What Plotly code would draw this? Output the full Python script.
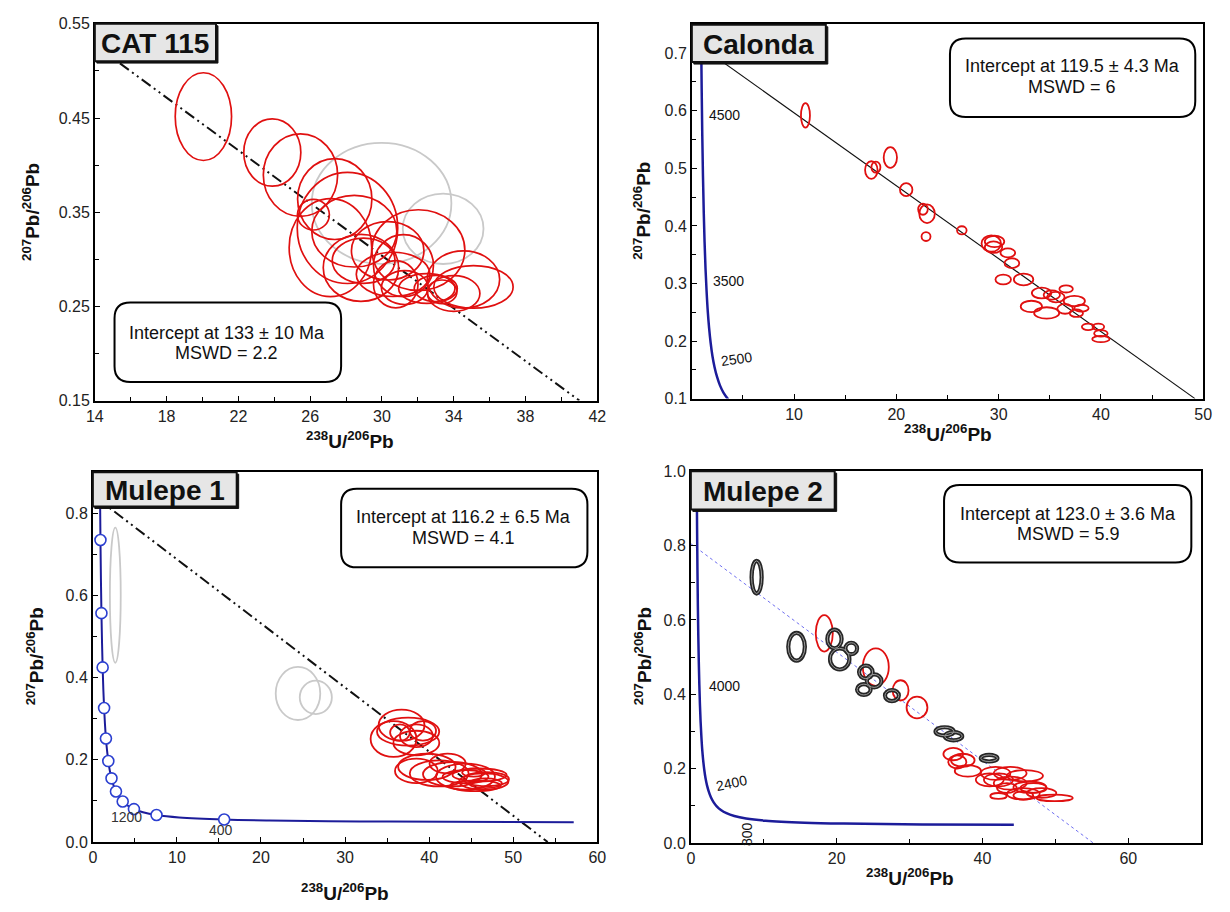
import plotly.graph_objects as go

# page body keeps an 8 px margin, so the figure is 1214x896 placed at (8, 8)
OFF = 8
W, H = 1230 - 2 * OFF, 912 - 2 * OFF

def px(v):
    return (v - OFF) / W

def py(v):
    return 1 - (v - OFF) / H

# ---------------- DATA ----------------
cat_x = [20.05, 23.89, 25.46, 27.37, 26.18, 28.08, 27.13, 28.46, 30.32, 28.83, 28.98, 32.03, 31.20, 30.62, 30.77, 31.27, 32.50, 33.00, 34.54, 35.10, 34.00, 33.35]
cat_y = [0.4515, 0.4133, 0.3894, 0.3640, 0.3474, 0.3333, 0.3124, 0.3298, 0.3090, 0.2909, 0.2985, 0.3098, 0.2933, 0.2840, 0.2735, 0.2700, 0.2690, 0.2690, 0.2785, 0.2707, 0.2637, 0.2655]
cat_ex = [1.57, 1.59, 2.07, 2.07, 0.89, 2.80, 2.30, 2.37, 2.02, 2.10, 1.75, 2.59, 1.67, 2.05, 1.24, 1.30, 1.57, 1.20, 2.02, 2.21, 1.46, 0.83]
cat_ey = [0.0466, 0.0357, 0.0438, 0.0430, 0.0163, 0.0590, 0.0520, 0.0380, 0.0310, 0.0355, 0.0240, 0.0428, 0.0330, 0.0235, 0.0250, 0.0180, 0.0157, 0.0139, 0.0304, 0.0226, 0.0190, 0.0125]
cat_gx = [29.98, 33.41]
cat_gy = [0.3594, 0.3324]
cat_gex = [3.89, 2.25]
cat_gey = [0.0643, 0.0374]
cat_line_x = [15.4, 41.0]
cat_line_y = [0.508, 0.15]

cal_x = [11.11, 17.55, 18.00, 19.41, 20.96, 22.60, 23.00, 22.90, 26.40, 29.28, 29.60, 29.50, 30.90, 31.30, 30.45, 32.44, 34.20, 35.20, 33.20, 34.70, 35.60, 36.60, 37.40, 36.50, 37.60, 38.10, 38.75, 39.75, 40.00, 40.00]
cal_y = [0.592, 0.497, 0.502, 0.5188, 0.463, 0.429, 0.4212, 0.3815, 0.3923, 0.3693, 0.373, 0.363, 0.3532, 0.3353, 0.307, 0.307, 0.2834, 0.280, 0.2601, 0.2488, 0.2763, 0.2905, 0.2695, 0.2559, 0.2483, 0.257, 0.2247, 0.2247, 0.2133, 0.2034]
cal_ex = [0.44, 0.61, 0.44, 0.65, 0.61, 0.47, 0.76, 0.44, 0.47, 0.95, 0.95, 0.85, 0.72, 0.72, 0.76, 0.95, 0.95, 0.80, 1.04, 1.23, 0.85, 0.66, 1.04, 0.76, 0.65, 0.70, 0.61, 0.57, 0.66, 0.85]
cal_ey = [0.0213, 0.0153, 0.0096, 0.0179, 0.0113, 0.0096, 0.0162, 0.0077, 0.0071, 0.0142, 0.0099, 0.0100, 0.0077, 0.0085, 0.0085, 0.0102, 0.0094, 0.0080, 0.0099, 0.0099, 0.0090, 0.0062, 0.0091, 0.0085, 0.0065, 0.0060, 0.0057, 0.0057, 0.0057, 0.0054]
cal_line_x = [0.0, 49.2]
cal_line_y = [0.723, 0.1]
cal_conc_x = [0.853, 0.904, 0.960, 1.021, 1.089, 1.163, 1.245, 1.337, 1.440, 1.556, 1.687, 1.838, 2.013, 2.217, 2.459, 2.749, 3.105, 3.550]
cal_conc_y = [0.846, 0.735, 0.639, 0.557, 0.486, 0.425, 0.372, 0.326, 0.287, 0.252, 0.223, 0.197, 0.174, 0.155, 0.138, 0.123, 0.110, 0.0987]
cal_age_labels = ["4500", "3500", "2500"]
cal_age_x = [3.23, 3.6, 4.33]
cal_age_y = [0.593, 0.304, 0.168]

m1_x = [36.72, 35.77, 37.50, 36.53, 38.48, 38.48, 39.26, 38.48, 39.73, 42.20, 41.20, 42.77, 44.33, 46.00, 46.50, 44.33, 45.30, 46.70, 45.50, 46.80]
m1_y = [0.2844, 0.2507, 0.2686, 0.2665, 0.241, 0.2586, 0.2705, 0.173, 0.183, 0.191, 0.167, 0.165, 0.159, 0.163, 0.147, 0.159, 0.169, 0.143, 0.137, 0.153]
m1_ex = [2.73, 2.73, 3.70, 1.17, 2.73, 1.95, 1.56, 2.54, 3.42, 2.15, 3.50, 3.50, 3.50, 3.22, 2.93, 2.73, 1.37, 1.95, 3.0, 2.7]
m1_ey = [0.0378, 0.0437, 0.034, 0.020, 0.0298, 0.0278, 0.0239, 0.0298, 0.0318, 0.0239, 0.0318, 0.0298, 0.0318, 0.0159, 0.0199, 0.0159, 0.010, 0.012, 0.013, 0.017]
m1_gx = [2.67, 24.4, 26.52]
m1_gy = [0.6007, 0.3615, 0.352]
m1_gex = [0.645, 2.65, 1.91]
m1_gey = [0.1644, 0.0645, 0.0406]
m1_line_x = [0.0, 54.1]
m1_line_y = [0.844, 0.0]
m1_conc_x = [0.806, 0.853, 0.904, 0.960, 1.021, 1.089, 1.163, 1.245, 1.337, 1.440, 1.556, 1.687, 1.838, 2.013, 2.217, 2.459, 2.749, 3.105, 3.550, 4.122, 4.887, 5.959, 7.57, 10.25, 15.62, 20.99, 31.73, 42.48, 57.2]
m1_conc_y = [0.974, 0.846, 0.735, 0.639, 0.557, 0.486, 0.425, 0.372, 0.326, 0.287, 0.252, 0.223, 0.197, 0.174, 0.155, 0.138, 0.123, 0.110, 0.0987, 0.0888, 0.0801, 0.0725, 0.0658, 0.0599, 0.0547, 0.0523, 0.0501, 0.0491, 0.0482]
m1_mark_x = [0.904, 1.021, 1.163, 1.337, 1.556, 1.838, 2.217, 2.749, 3.550, 4.887, 7.57, 15.62]
m1_mark_y = [0.735, 0.557, 0.425, 0.326, 0.252, 0.197, 0.155, 0.123, 0.0987, 0.0801, 0.0658, 0.0547]
m1_age_labels = ["1200", "400"]
m1_age_x = [4.0, 15.2]
m1_age_y = [0.06, 0.03]

m2_bx = [9.02, 14.5, 19.7, 20.42, 22.0, 24.0, 25.14, 23.73, 27.58, 34.81, 36.03, 40.91]
m2_by = [0.7149, 0.5276, 0.5487, 0.4952, 0.5232, 0.4596, 0.436, 0.4127, 0.3965, 0.300, 0.2873, 0.228]
m2_bex = [0.69, 1.14, 0.98, 1.33, 0.80, 0.93, 1.00, 0.93, 0.95, 1.25, 1.19, 1.14]
m2_bey = [0.0439, 0.0373, 0.025, 0.0285, 0.0154, 0.0175, 0.0175, 0.0145, 0.0149, 0.0114, 0.011, 0.0088]
m2_rx = [18.3, 25.37, 28.77, 31.02, 35.99, 36.55, 37.3, 38.0, 41.0, 41.8, 43.8, 45.82, 42.2, 43.8, 46.5, 43.35, 45.6, 48.1, 49.9, 42.2, 45.6, 47.0]
m2_ry = [0.564, 0.4732, 0.4105, 0.3645, 0.2393, 0.218, 0.2225, 0.1939, 0.1698, 0.1873, 0.1873, 0.1808, 0.1698, 0.161, 0.150, 0.148, 0.1323, 0.1345, 0.1213, 0.1266, 0.128, 0.148]
m2_rex = [1.17, 1.78, 1.09, 1.43, 1.35, 1.24, 1.62, 1.80, 1.91, 2.03, 2.25, 2.48, 2.00, 2.25, 2.25, 1.35, 2.25, 2.03, 2.48, 1.13, 1.35, 1.80]
m2_rey = [0.0491, 0.0504, 0.0272, 0.0294, 0.0167, 0.0176, 0.0176, 0.0154, 0.0176, 0.0176, 0.0176, 0.0154, 0.0176, 0.0176, 0.0154, 0.0132, 0.0154, 0.0132, 0.0088, 0.0079, 0.011, 0.0132]
m2_line_x = [0.0, 55.2]
m2_line_y = [0.805, 0.0]
m2_conc_x = [0.763, 0.806, 0.853, 0.904, 0.960, 1.021, 1.089, 1.163, 1.245, 1.337, 1.440, 1.556, 1.687, 1.838, 2.013, 2.217, 2.459, 2.749, 3.105, 3.550, 4.122, 4.887, 5.959, 7.57, 10.25, 15.62, 20.99, 31.73, 44.3]
m2_conc_y = [1.123, 0.974, 0.846, 0.735, 0.639, 0.557, 0.486, 0.425, 0.372, 0.326, 0.287, 0.252, 0.223, 0.197, 0.174, 0.155, 0.138, 0.123, 0.110, 0.0987, 0.0888, 0.0801, 0.0725, 0.0658, 0.0599, 0.0547, 0.0523, 0.0501, 0.0490]
m2_age_labels = ["4000", "2400", "800"]
m2_age_x = [4.56, 5.6, 7.69]
m2_age_y = [0.421, 0.161, 0.024]
m2_age_angle = [0, -12, -90]

panel_names = ["CAT 115", "Calonda", "Mulepe 1", "Mulepe 2"]
intercept_text = ["Intercept at 133 ± 10 Ma", "Intercept at 119.5 ± 4.3 Ma",
                  "Intercept at 116.2 ± 6.5 Ma", "Intercept at 123.0 ± 3.6 Ma"]
mswd_text = ["MSWD = 2.2", "MSWD = 6", "MSWD = 4.1", "MSWD = 5.9"]
x_title = "<sup>238</sup>U/<sup>206</sup>Pb"
y_title = "<sup>207</sup>Pb/<sup>206</sup>Pb"

# ---------------- GEOMETRY (page pixels) ----------------
dom = {
    1: (87, 597, 16, 400),
    2: (693, 1212, 16, 398),
    3: (85, 597, 473, 850),
    4: (692, 1210, 472, 851),
}
RED = "#e01010"
GREY = "#c9c9c9"
NAVY = "#1c1c9a"
FONT = "Arial, Liberation Sans, sans-serif"

fig = go.Figure()


def ax_name(i):
    return ("x" if i == 1 else "x%d" % i), ("y" if i == 1 else "y%d" % i)


def add_ellipses(i, xs, ys, exs, eys, color, width):
    xr, yr = ax_name(i)
    for cx, cy, ex, ey in zip(xs, ys, exs, eys):
        fig.add_shape(type="circle", xref=xr, yref=yr,
                      x0=cx - ex, x1=cx + ex, y0=cy - ey, y1=cy + ey,
                      line=dict(color=color, width=width),
                      fillcolor="rgba(0,0,0,0)")


def add_line(i, xs, ys, color, width, dash, shape="linear"):
    xr, yr = ax_name(i)
    fig.add_trace(go.Scatter(x=xs, y=ys, mode="lines", xaxis=xr, yaxis=yr,
                             line=dict(color=color, width=width, dash=dash, shape=shape),
                             showlegend=False, hoverinfo="skip"))


DASHDOT2 = "11px,4px,2px,4px,2px,4px"

add_line(1, cat_line_x, cat_line_y, "#111111", 2, DASHDOT2)
add_ellipses(1, cat_gx, cat_gy, cat_gex, cat_gey, GREY, 1.8)
add_ellipses(1, cat_x, cat_y, cat_ex, cat_ey, RED, 1.7)

add_line(2, cal_line_x, cal_line_y, "#111111", 1.1, "solid")
add_line(2, cal_conc_x, cal_conc_y, NAVY, 2.5, "solid", "spline")
add_ellipses(2, cal_x, cal_y, cal_ex, cal_ey, RED, 1.8)

add_line(3, m1_line_x, m1_line_y, "#111111", 2, DASHDOT2)
add_line(3, m1_conc_x, m1_conc_y, NAVY, 2, "solid", "spline")
fig.add_trace(go.Scatter(x=m1_mark_x, y=m1_mark_y, mode="markers", xaxis="x3", yaxis="y3",
                         marker=dict(symbol="circle", size=11, color="white",
                                     line=dict(color="#2b3fd0", width=1.6)),
                         showlegend=False, hoverinfo="skip"))
add_ellipses(3, m1_gx, m1_gy, m1_gex, m1_gey, GREY, 1.8)
add_ellipses(3, m1_x, m1_y, m1_ex, m1_ey, RED, 1.8)

add_line(4, m2_line_x, m2_line_y, "#6f6ff0", 1, "dot")
add_line(4, m2_conc_x, m2_conc_y, NAVY, 2.5, "solid", "spline")
add_ellipses(4, m2_rx, m2_ry, m2_rex, m2_rey, RED, 1.8)
add_ellipses(4, m2_bx, m2_by, m2_bex, m2_bey, "#262626", 4.2)
add_ellipses(4, m2_bx, m2_by, m2_bex, m2_bey, "#9a9a9a", 1)

# ---------------- AXES ----------------
common = dict(showline=True, linecolor="black", linewidth=1.6, mirror=True,
              ticks="inside", ticklen=5, tickwidth=1.3, tickcolor="black",
              showgrid=False, zeroline=False,
              tickfont=dict(family=FONT, size=16, color="#222222"))

axes_cfg = {
    1: dict(xr=[14, 42], xt=[14, 18, 22, 26, 30, 34, 38, 42], xm=2,
            yr=[0.15, 0.55], yt=[0.15, 0.25, 0.35, 0.45, 0.55], ym=0.05, fmt="%.2f"),
    2: dict(xr=[0, 50], xt=[10, 20, 30, 40, 50], xm=5,
            yr=[0.1, 0.751], yt=[0.1, 0.2, 0.3, 0.4, 0.5, 0.6, 0.7], ym=0.05, fmt="%.1f"),
    3: dict(xr=[0, 60], xt=[0, 10, 20, 30, 40, 50, 60], xm=5,
            yr=[0, 0.9], yt=[0.0, 0.2, 0.4, 0.6, 0.8], ym=0.1, fmt="%.1f"),
    4: dict(xr=[0, 70], xt=[0, 20, 40, 60], xm=10,
            yr=[0, 1.0], yt=[0.0, 0.2, 0.4, 0.6, 0.8, 1.0], ym=0.1, fmt="%.1f"),
}

lay = {}
for i, (x0, x1, yt, yb) in dom.items():
    c = axes_cfg[i]
    xk = "xaxis" if i == 1 else "xaxis%d" % i
    yk = "yaxis" if i == 1 else "yaxis%d" % i
    xr_, yr_ = ax_name(i)
    lay[xk] = dict(common, domain=[px(x0), px(x1)], anchor=yr_, range=c["xr"],
                   tickmode="array", tickvals=c["xt"], ticktext=[str(v) for v in c["xt"]],
                   minor=dict(ticks="inside", ticklen=4, tickwidth=1.2, tickcolor="black",
                              tickmode="linear", tick0=c["xr"][0], dtick=c["xm"]))
    lay[yk] = dict(common, domain=[py(yb), py(yt)], anchor=xr_, range=c["yr"],
                   tickmode="array", tickvals=c["yt"], ticktext=[c["fmt"] % v for v in c["yt"]],
                   minor=dict(ticks="inside", ticklen=4, tickwidth=1.2, tickcolor="black",
                              tickmode="linear", tick0=c["yr"][0], dtick=c["ym"]))

annotations = []


def rounded_rect(x0, y0, x1, y1, r):
    pts = [
        (x0 + r, y0), (x1 - r, y0), ("Q", x1, y0, x1, y0 + r), (x1, y1 - r),
        ("Q", x1, y1, x1 - r, y1), (x0 + r, y1), ("Q", x0, y1, x0, y1 - r),
        (x0, y0 + r), ("Q", x0, y0, x0 + r, y0)]
    path = "M %.5f,%.5f" % (px(pts[0][0]), py(pts[0][1]))
    for p in pts[1:]:
        if p[0] == "Q":
            path += " Q %.5f,%.5f %.5f,%.5f" % (px(p[1]), py(p[2]), px(p[3]), py(p[4]))
        else:
            path += " L %.5f,%.5f" % (px(p[0]), py(p[1]))
    return path + " Z"


ibox = {
    1: (107, 337, 300, 381, 221, 331, 352),
    2: (955, 1204, 31, 111, 1079, 59, 80),
    3: (337, 587, 490, 570, 461, 519, 540),
    4: (949, 1200, 486, 565, 1075, 516, 536),
}
for i, (x0, x1, yt, yb, tx, l1, l2) in ibox.items():
    fig.add_shape(type="path", xref="paper", yref="paper",
                  path=rounded_rect(x0, yt, x1, yb, 16),
                  line=dict(color="black", width=2), fillcolor="white")
    for txt, ly in ((intercept_text[i - 1], l1), (mswd_text[i - 1], l2)):
        annotations.append(dict(x=px(tx), y=py(ly), xref="paper", yref="paper",
                                text=txt, showarrow=False,
                                font=dict(family=FONT, size=18, color="#111111"),
                                xanchor="center", yanchor="middle"))

tbox = {
    1: (87, 210, 16, 54),
    2: (693, 829, 17, 55),
    3: (85, 231, 473, 508),
    4: (692, 838, 472, 511),
}
for i, (x0, x1, yt, yb) in tbox.items():
    fig.add_shape(type="rect", xref="paper", yref="paper",
                  x0=px(x0 + 2), x1=px(x1 + 2), y0=py(yb + 2), y1=py(yt + 2),
                  line=dict(color="#111111", width=1), fillcolor="#111111")
    fig.add_shape(type="rect", xref="paper", yref="paper",
                  x0=px(x0), x1=px(x1), y0=py(yb), y1=py(yt),
                  line=dict(color="#111111", width=2), fillcolor="#e6e6e6")
    annotations.append(dict(x=px((x0 + x1) / 2), y=py((yt + yb) / 2 + 1), xref="paper", yref="paper",
                            text=panel_names[i - 1], showarrow=False,
                            font=dict(family=FONT, size=28, color="#111111", weight="bold"),
                            xanchor="center", yanchor="middle"))

xt_pos = {1: (346, 440), 2: (953, 433), 3: (341, 901), 4: (914, 886)}
yt_pos = {1: (22, 208), 2: (643, 207), 3: (26, 661), 4: (643, 661)}
for i in range(1, 5):
    annotations.append(dict(x=px(xt_pos[i][0]), y=py(xt_pos[i][1]), xref="paper", yref="paper",
                            text=x_title, showarrow=False,
                            font=dict(family=FONT, size=19, color="#111111", weight="bold"),
                            xanchor="center", yanchor="middle"))
    annotations.append(dict(x=px(yt_pos[i][0]), y=py(yt_pos[i][1]), xref="paper", yref="paper",
                            text=y_title, showarrow=False, textangle=-90,
                            font=dict(family=FONT, size=19, color="#111111", weight="bold"),
                            xanchor="center", yanchor="middle"))

for t, x, y in zip(cal_age_labels, cal_age_x, cal_age_y):
    annotations.append(dict(x=x, y=y, xref="x2", yref="y2", text=t, showarrow=False,
                            textangle=-8 if t == "2500" else 0,
                            font=dict(family=FONT, size=14, color="#111111")))
for t, x, y in zip(m1_age_labels, m1_age_x, m1_age_y):
    annotations.append(dict(x=x, y=y, xref="x3", yref="y3", text=t, showarrow=False,
                            font=dict(family=FONT, size=14, color="#333333")))
for t, x, y, a in zip(m2_age_labels, m2_age_x, m2_age_y, m2_age_angle):
    annotations.append(dict(x=x, y=y, xref="x4", yref="y4", text=t, showarrow=False,
                            textangle=a, font=dict(family=FONT, size=14, color="#111111")))

fig.update_layout(
    width=W, height=H, margin=dict(l=0, r=0, t=0, b=0),
    paper_bgcolor="white", plot_bgcolor="white",
    showlegend=False, annotations=annotations, **lay)

fig.write_html("out.html")
